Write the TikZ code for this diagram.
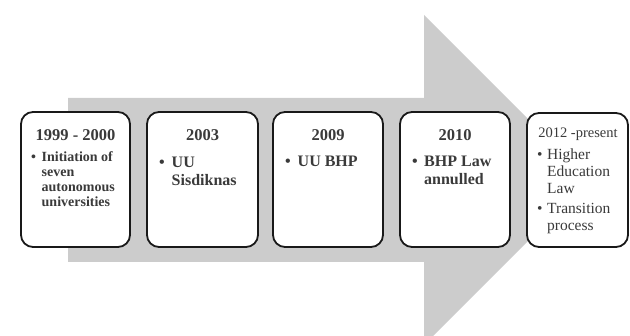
\documentclass[tikz,border=0pt]{standalone}
\usepackage{fontspec}
\setmainfont{Liberation Serif}
\definecolor{arrowgray}{HTML}{CCCCCC}
\definecolor{txtgray}{HTML}{3A3A3A}
\begin{document}
\begin{tikzpicture}[x=1pt,y=-1pt,
  stagebox/.style={draw=black!90,line width=1.8pt,fill=white,rounded corners=12pt},
  ttl/.style={inner sep=0pt,anchor=base,text=txtgray,font={\bfseries\fontsize{16.5}{18}\selectfont}},
  ttlsmall/.style={inner sep=0pt,anchor=base,text=txtgray,font={\fontsize{14.5}{16}\selectfont}},
  bulA/.style={inner sep=0pt,anchor=base west,align=left,text=txtgray,font={\bfseries\fontsize{14}{15}\selectfont}},
  bulB/.style={inner sep=0pt,anchor=base west,align=left,text=txtgray,font={\bfseries\fontsize{16}{18}\selectfont}},
  bulC/.style={inner sep=0pt,anchor=base west,align=left,text=txtgray,font={\fontsize{15.5}{17}\selectfont}}]
\useasboundingbox (0,0) rectangle (630,336);
\clip (0,0) rectangle (630,336);
% big arrow
\fill[arrowgray] (68,98) -- (424,98) -- (424,15) -- (589,180) -- (424,345) -- (424,262) -- (68,262) -- cycle;
% boxes
\draw[stagebox] (21,112) rectangle (130,247) node[pos=.5] (b1) {};
\draw[stagebox] (147,112) rectangle (258,247) node[pos=.5] (b2) {};
\draw[stagebox] (273,112) rectangle (383,247) node[pos=.5] (b3) {};
\draw[stagebox] (400,112) rectangle (510,247) node[pos=.5] (b4) {};
\draw[stagebox] (527,113) rectangle (628,247) node[pos=.5] (b5) {};
% titles
\node[ttl] (t1) at (75.5,140.5) {1999 - 2000};
\node[ttl] (t2) at (202.5,140.5) {2003};
\node[ttl] (t3) at (328,140.5) {2009};
\node[ttl] (t4) at (455,140.5) {2010};
\node[ttlsmall] (t5) at (578,137.5) {2012 -present};
% bullets (base anchor = baseline of the last line)
\node[bulA] (d1) at (31,162) {\textbullet};
\node[bulA] (x1) at (41.5,207) {Initiation of\\seven\\autonomous\\universities};
\node[bulB] (d2) at (159,167.5) {\textbullet};
\node[bulB] (x2) at (171.5,185.5) {UU\\Sisdiknas};
\node[bulB] (d3) at (285,167) {\textbullet};
\node[bulB] (x3) at (297.5,167) {UU BHP};
\node[bulB] (d4) at (412,167) {\textbullet};
\node[bulB] (x4) at (424,185) {BHP Law\\annulled};
\node[bulC] (d5) at (537,160) {\textbullet};
\node[bulC] (x5) at (547,194) {Higher\\Education\\Law};
\node[bulC] (d6) at (537,214) {\textbullet};
\node[bulC] (x6) at (547,231) {Transition\\process};
\end{tikzpicture}
\end{document}
